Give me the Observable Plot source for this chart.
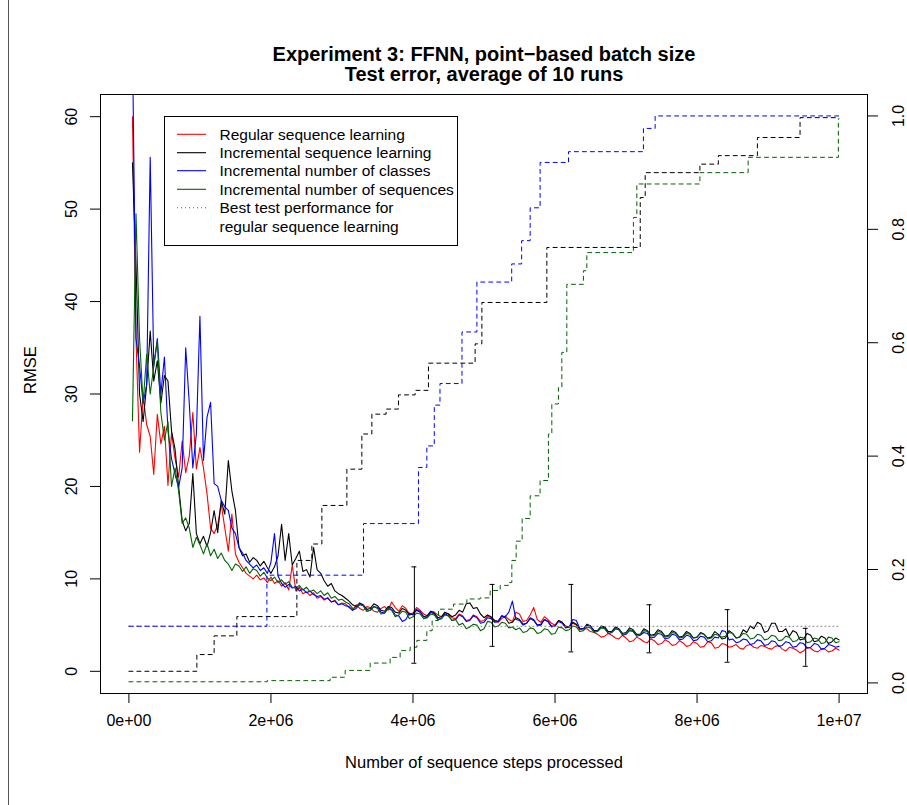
<!DOCTYPE html>
<html><head><meta charset="utf-8">
<script src="https://cdn.jsdelivr.net/npm/d3@7"></script>
<script src="https://cdn.jsdelivr.net/npm/@observablehq/plot@0.6"></script>
<style>body{margin:0;background:#fff;}</style>
</head><body><div id="chart"></div>
<script>
// x in millions of sequence steps
const earlySteps = d3.range(1, 61).map(i => i * 0.05);    // 0.05 .. 3.0
const lateSteps = d3.range(61, 201).map(i => i * 0.05);   // 3.05 .. 10.0
const steps = earlySteps.concat(lateSteps);

const seriesNames = ["Regular sequence learning", "Incremental sequence learning", "Incremental number of classes", "Incremental number of sequences"];
const seriesColors = ["#FF0000", "#000000", "#0000FF", "#006400"];

const redEarly = [60,36,23.7,29.8,26.7,25.4,21.3,27.8,24.6,26.5,20.1,25.8,23,21,24.9,21.5,23.3,28,21.9,24.2,22,19.2,15.5,14.9,15.8,18.1,15.5,13,17,12.7,11.8,11.2,10.6,10.3,10,10.4,9.9,10.1,9.6,10.2,9.5,9.8,9.2,9.6,8.8,11.5,8.7,9.1,8.4,8.6,8.2,8.5,7.9,8.1,7.7,8.0,7.5,7.7,7.2,7.4];
const redLate = [7.3,6.9,6.6,7.2,6.8,6.6,7.0,6.9,6.5,6.4, 6.8,7.0,6.6,7.5,6.9,6.5,7.1,6.8,6.2,6.3, 6.9,6.6,6.2,6.0,6.5,6.4,6.1,5.9,6.3,6.2, 5.8,5.7,6.2,6.0,5.5,5.6,6.1,5.9,5.4,5.5, 6.0,5.8,5.4,5.3,5.7,6.0,5.6,5.4,6.4,6.2, 5.4,5.5,6.1,6.9,5.6,5.3,5.9,5.6,5.2,5.0, 5.5,5.3,4.9,4.8,5.2,5.0,4.5,4.6,4.6,4.3, 4.2,4.0,3.7,3.8,4.1,3.9,3.6,3.5,3.9,3.6, 3.2,3.3,3.7,3.5,3.2,3.1,3.5,3.3,2.9,3.0, 3.4,3.2,2.8,2.9,3.3,3.1,2.7,2.8,3.2,3.0, 2.6,2.7,3.2,3.1,2.5,2.6,3.0,2.9,2.6,2.7, 2.9,2.5,2.4,2.8,2.9,2.6,2.5,2.8,2.7,2.5, 2.4,2.7,2.8,2.4,2.2,2.6,2.5,2.3,2.0,2.2, 2.6,2.5,2.2,2.1,2.4,2.4,2.1,2.2,2.5,2.3];

const blackEarly = [55,44,30,27,31,36.8,31.4,33.6,29,32,31.4,26,24,20,16.3,15.2,16,21.4,14.9,13.8,14.6,13.5,15,17.4,15,18.5,17,22.8,19.5,17.4,13.4,12.5,12.7,11.8,12.3,12,11.4,11.9,11.2,10.6,11.3,12.5,15.9,12,14.9,11.5,12.2,13,10.8,11,10.2,13.4,11,10.6,9.8,9.2,9.5,8.7,8.4,8.2];
const blackLate = [7.9,7.6,7.2,7.0,7.4,7.2,6.7,6.8,7.3,7.1, 6.6,6.5,7.0,6.9,6.4,6.3,6.8,6.6,6.1,6.2, 6.6,6.4,5.9,6.0,6.5,6.3,5.8,5.9,6.4,6.2, 5.9,6.1,6.6,6.4,7.3,7.4,6.8,6.9,6.2,5.8, 6.1,5.9,5.5,5.4,6.0,5.8,5.2,5.3,5.8,5.6, 5.1,5.2,5.7,5.5,5.0,5.0,5.6,5.4,4.9,4.9, 5.5,5.3,4.8,4.8,5.3,5.1,4.6,4.6,5.1,4.9, 4.4,4.4,4.9,4.8,4.3,4.3,4.8,4.6,4.1,4.2, 4.7,4.5,4.0,4.0,4.6,4.4,3.9,4.0,4.5,4.3, 3.8,3.9,4.4,4.2,3.7,3.8,4.3,4.1,3.6,3.7, 4.2,4.0,3.6,3.7,4.3,4.0,3.5,3.6,4.4,4.1, 3.6,3.7,4.5,4.2,4.9,4.6,5.3,5.1,4.2,4.4, 5.2,5.2,4.3,4.3,4.6,3.8,4.4,4.2,3.4,3.5, 4.1,3.9,3.2,3.3,3.8,3.6,3.0,3.2,3.6,3.4];

const blueEarly = [68,36,33,29,31,55.6,33,36,30,34,26,23,21.3,19.9,22,35,29,22,25.7,38.4,22.8,27.5,29.1,20.3,20,18.5,17.8,17.4,15.5,14.9,13.4,12.8,12,11.6,11.2,11.5,10.9,11.2,10.6,11.8,14.9,10.3,9.5,9.1,9.4,9.0,9.2,8.7,8.9,8.5,8.7,8.3,8.1,8.2,7.8,7.9,7.5,7.6,7.2,7.3];
const blueLate = [7.1,7.0,6.6,6.8,7.3,7.1,6.5,6.6,7.0,6.9, 6.4,6.3,6.9,6.7,6.1,6.0,5.4,5.6,6.3,6.1, 6.7,6.5,5.9,5.8,6.4,6.2,5.6,5.7,6.2,6.0, 5.5,5.6,6.1,5.9,5.4,5.5,6.0,5.8,5.2,5.3, 5.8,5.7,5.3,5.4,6.0,5.9,6.4,7.6,5.6,5.5, 5.0,5.2,5.8,5.6,5.0,5.1,5.6,5.4,4.8,4.9, 5.4,5.2,4.7,4.8,5.6,5.5,4.6,4.6,5.0,4.9, 4.3,4.4,4.8,4.7,4.1,4.2,4.6,4.5,3.9,4.0, 4.4,4.3,3.8,3.9,4.2,4.1,3.6,3.7,4.1,4.0, 3.5,3.6,4.0,3.9,3.4,3.5,3.9,3.8,3.3,3.4, 3.8,3.7,3.2,3.3,3.7,3.6,4.4,4.3,3.4,3.5, 3.1,3.2,3.5,3.4,2.9,3.0,3.4,3.3,2.8,2.9, 3.3,3.2,2.7,2.8,3.2,3.1,2.6,2.7,3.1,3.0, 2.5,2.6,3.0,2.9,2.4,2.5,2.9,2.8,2.6,2.7];

const greenEarly = [27.1,49.5,36,29,34.3,30,33,35.7,28,25,27,20,22,19.5,16,16.6,15.5,13.4,14.5,13.7,12.7,13.8,12.5,13.2,12.2,12.8,12.0,11.6,10.9,11.6,11.4,10.8,11.3,10.6,11.1,10.9,10.3,10.7,10.1,9.8,10.2,9.6,9.9,9.4,9.7,9.1,9.0,9.3,8.8,9.1,8.6,8.8,8.4,8.7,8.2,8.5,7.9,8.1,7.7,7.8];
const greenLate = [7.5,7.3,6.8,6.9,7.2,7.1,6.5,6.6,7.0,6.8, 6.2,6.3,6.8,6.6,5.9,6.1,6.5,6.4,5.7,5.9, 6.3,6.2,5.7,5.8,6.2,6.1,5.6,5.7,6.1,6.0, 5.5,5.6,5.0,5.2,4.6,4.8,5.1,5.0,4.4,4.6, 5.4,5.3,4.8,4.9,5.3,5.2,4.7,4.8,4.5,4.7, 4.2,4.3,4.7,4.6,4.1,4.2,4.6,4.5,4.0,4.1, 4.8,4.7,4.4,4.5,4.9,4.8,4.3,4.4,4.8,4.7, 4.2,4.3,4.7,4.6,4.1,4.2,4.6,4.5,4.0,4.1, 4.5,4.4,3.9,4.0,4.4,4.3,3.8,3.9,4.3,4.2, 3.7,3.8,4.2,4.1,3.6,3.7,4.1,4.0,3.6,3.7, 4.1,4.0,3.5,3.6,4.0,3.9,3.7,3.8,4.2,4.1, 3.6,3.7,4.1,4.0,3.5,3.6,4.0,3.9,3.4,3.5, 3.9,3.8,3.3,3.4,3.8,3.7,3.2,3.3,3.7,3.6, 3.1,3.2,3.6,3.5,3.0,3.1,3.7,3.6,3.1,3.2];

// right-axis step curves (fraction, 0..1)
const blackStepX = [0,0.957,1.2,1.52,2.365,2.576,2.717,3.069,3.28,3.421,3.622,3.796,4.03,4.218,4.875,4.97,5.885,7.2,7.27,8.04,8.3,8.85,9.45,10];
const blackStepR = [0.0205,0.05,0.083,0.117,0.216,0.245,0.313,0.377,0.439,0.474,0.483,0.508,0.516,0.564,0.598,0.671,0.768,0.856,0.9,0.915,0.93,0.962,0.997,0.997];
const blueStepX = [0,1.943,3.303,4.077,4.195,4.3,4.38,4.69,4.9,5.39,5.53,5.65,5.79,6.19,7.245,7.41,10];
const blueStepR = [0.1,0.19,0.281,0.38,0.418,0.49,0.528,0.619,0.707,0.739,0.78,0.838,0.918,0.937,0.978,1.0,1.0];
const greenStepX = [0,1.947,2.834,3.045,3.397,3.678,3.819,3.96,4.055,4.195,4.27,4.359,4.57,4.759,4.946,5.087,5.228,5.344,5.392,5.453,5.537,5.65,5.79,5.907,5.955,6.048,6.096,6.166,6.4,6.448,7.104,7.152,8.04,8.719,9.99,10];
const greenStepR = [0.002,0.004,0.01,0.022,0.035,0.045,0.057,0.063,0.075,0.092,0.11,0.13,0.139,0.148,0.15,0.163,0.172,0.177,0.216,0.25,0.29,0.33,0.357,0.439,0.492,0.521,0.583,0.703,0.727,0.759,0.821,0.88,0.9,0.927,0.995,0.995];

// error bars
const errX = [4.02,5.12,6.23,7.33,8.43,9.53];
const errLo = [0.87,2.7,2.1,2.0,0.98,0.54];
const errHi = [11.3,9.4,9.4,7.2,6.67,4.65];

// best test performance
const bestX = [0, 10];
const bestRMSE = 4.87;

// axes
const xTicks = [0,2,4,6,8,10];
const xTickLabels = ["0e+00","2e+06","4e+06","6e+06","8e+06","1e+07"];
const leftTicks = [0,10,20,30,40,50,60];
const rightTicks = [0,0.2,0.4,0.6,0.8,1.0];
const rightTickLabels = ["0.0","0.2","0.4","0.6","0.8","1.0"];

// right axis fraction -> RMSE coordinate (secondary axis alignment)
const rightAt0 = -1.254, rightAt1 = 60.08;
const rToY = r => rightAt0 + r * (rightAt1 - rightAt0);

const earlyLate = [[redEarly, redLate],[blackEarly, blackLate],[blueEarly, blueLate],[greenEarly, greenLate]];
const rmseRows = earlyLate.map(([e, l]) => e.concat(l).map((v, i) => ({x: steps[i], v})));
const stepRows = [[blackStepX, blackStepR, seriesColors[1]], [blueStepX, blueStepR, seriesColors[2]], [greenStepX, greenStepR, seriesColors[3]]]
  .map(([xs, rs, c]) => ({c, rows: xs.map((x, i) => ({x, r: rs[i]}))}));
const errRows = errX.map((x, i) => ({x, lo: errLo[i], hi: errHi[i]}));
const capHalf = 0.035;

const font = "Liberation Sans, Arial, Helvetica, sans-serif";
const tickFont = 16, labFont = 16.5, titleFont = 20, legendFont = 15.5;

const marks = [];
rmseRows.forEach((rows, k) => {
  marks.push(Plot.line(rows, {x: "x", y: "v", stroke: seriesColors[k], strokeWidth: 1.1, clip: true}));
});
marks.push(Plot.line(bestX.map(x => ({x, v: bestRMSE})), {x: "x", y: "v", stroke: "#808080", strokeDasharray: "1,3", strokeWidth: 1}));
stepRows.forEach(s => {
  marks.push(Plot.line(s.rows, {x: "x", y: d => rToY(d.r), curve: "step-after", stroke: s.c, strokeDasharray: "4,4", strokeWidth: 1}));
});
marks.push(Plot.ruleX(errRows, {x: "x", y1: "lo", y2: "hi", stroke: "black", strokeWidth: 1}));
marks.push(Plot.ruleY(errRows, {y: "hi", x1: d => d.x - capHalf, x2: d => d.x + capHalf, stroke: "black"}));
marks.push(Plot.ruleY(errRows, {y: "lo", x1: d => d.x - capHalf, x2: d => d.x + capHalf, stroke: "black"}));
marks.push(Plot.frame({stroke: "black", strokeWidth: 1}));
marks.push(Plot.axisX({ticks: xTicks, tickSize: 10, tickPadding: 11, fontSize: tickFont, label: null, tickFormat: d => xTickLabels[xTicks.indexOf(d)]}));
marks.push(Plot.axisY({ticks: leftTicks, tickSize: 10, label: null, tickFormat: () => ""}));
marks.push(Plot.text(leftTicks, {y: d => d, text: d => String(d), frameAnchor: "left", dx: -29, rotate: -90, fontSize: tickFont, textAnchor: "middle"}));
marks.push(Plot.axisY({anchor: "right", ticks: rightTicks.map(rToY), tickSize: 10, label: null, tickFormat: () => ""}));
marks.push(Plot.text(rightTicks, {y: d => rToY(d), text: (d, i) => rightTickLabels[i], frameAnchor: "right", dx: 31, rotate: -90, fontSize: tickFont, textAnchor: "middle"}));
marks.push(Plot.text(["RMSE"], {text: d => d, frameAnchor: "left", dx: -70, rotate: -90, fontSize: labFont}));
marks.push(Plot.text(["Number of sequence steps processed"], {text: d => d, frameAnchor: "bottom", dy: 74, fontSize: labFont}));
marks.push(Plot.text(["Experiment 3: FFNN, point\u2212based batch size"], {text: d => d, frameAnchor: "top", dy: -48, fontSize: titleFont, fontWeight: "bold"}));
marks.push(Plot.text(["Test error, average of 10 runs"], {text: d => d, frameAnchor: "top", dy: -28, fontSize: titleFont, fontWeight: "bold"}));

const svg = Plot.plot({
  width: 907, height: 805,
  marginLeft: 100, marginRight: 40, marginTop: 94, marginBottom: 112,
  x: {domain: [-0.4, 10.4]},
  y: {domain: [-2.4, 62.4]},
  style: {fontFamily: font, background: "white", color: "black", fontSize: "14px"},
  marks
});
document.getElementById("chart").appendChild(svg);

// legend & page border
const s = d3.select(svg);
s.append("line").attr("x1", 8.5).attr("x2", 8.5).attr("y1", 0).attr("y2", 805).attr("stroke", "#555");
const lg = s.append("g").attr("font-family", font).attr("font-size", legendFont).attr("text-anchor", "start");
lg.append("rect").attr("x", 164.5).attr("y", 116.5).attr("width", 293).attr("height", 129).attr("fill", "white").attr("stroke", "black");
const legendLabels = seriesNames.concat(["Best test performance for"]);
const legendColors = seriesColors.concat(["#1a8a1a"]);
const rowY = [134.3, 152.7, 170.7, 189.3, 207.7];
legendLabels.forEach((t, i) => {
  lg.append("line").attr("x1", 177).attr("x2", 206).attr("y1", rowY[i]).attr("y2", rowY[i])
    .attr("stroke", legendColors[i]).attr("stroke-width", 1.1).attr("stroke-dasharray", i === 4 ? "1,3" : null);
  lg.append("text").attr("x", 219.5).attr("y", rowY[i]).attr("dy", "0.35em").attr("text-anchor", "start").text(t);
});
lg.append("text").attr("x", 219.5).attr("y", 226.7).attr("dy", "0.35em").attr("text-anchor", "start").text("regular sequence learning");
</script>
</body></html>
